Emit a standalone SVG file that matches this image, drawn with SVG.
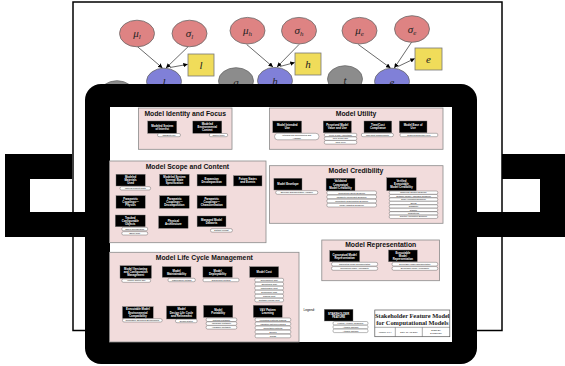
<svg xmlns="http://www.w3.org/2000/svg" width="565" height="366" viewBox="0 0 565 366">
<defs>
<marker id="ah" viewBox="0 0 10 10" refX="10" refY="5" markerWidth="4.5" markerHeight="4.5" orient="auto" markerUnits="userSpaceOnUse"><path d="M0,0 L10,5 L0,10 z" fill="#000"/></marker>
<style>
.red{fill:#de8383;stroke:#6a6a6a;stroke-width:0.8}
.blue{fill:#8080d8;stroke:#6a6a6a;stroke-width:0.8}
.grey{fill:#8c8c8c;stroke:#6a6a6a;stroke-width:0.8}
.yel{fill:#f0dc5a;stroke:#777;stroke-width:0.8}
.gl{font-family:"Liberation Serif","DejaVu Serif",serif;font-style:italic;font-size:11px;fill:#222;text-anchor:middle}
.edge{stroke:#444;stroke-width:0.8;fill:none;marker-end:url(#ah)}
.panel{fill:#f2dcdc;stroke:#8a8a8a;stroke-width:0.8}
.pt{font-family:"Liberation Sans",Arial,sans-serif;font-weight:bold;font-size:6.8px;fill:#111;text-anchor:middle}
.fb{fill:#000;stroke:#777;stroke-width:0.4}
.ft{font-family:"Liberation Sans",Arial,sans-serif;font-weight:bold;font-size:2.8px;fill:#fff;text-anchor:middle}
.tg{fill:#fff;stroke:#333;stroke-width:0.35}
.tt{font-family:"Liberation Sans",Arial,sans-serif;font-size:2.1px;fill:#000;text-anchor:middle}
.tb{font-family:"Liberation Serif","Times New Roman",serif;font-weight:bold;font-size:6.4px;fill:#222;text-anchor:middle}
</style>
</defs>
<rect width="565" height="366" fill="#fff"/>
<rect id="frame" x="73" y="2" width="429" height="328.5" fill="#fff" stroke="#000" stroke-width="1.5"/>

<g id="connectors">
<line class="edge" x1="137.3" y1="46.5" x2="162.5" y2="68"/>
<line class="edge" x1="188.3" y1="46.5" x2="166" y2="68"/>
<line class="edge" x1="170" y1="67.5" x2="187.8" y2="64.3"/>
<line class="edge" x1="246.7" y1="44.5" x2="273" y2="67"/>
<line class="edge" x1="299" y1="44.5" x2="277" y2="67"/>
<line class="edge" x1="280" y1="66.5" x2="294.8" y2="62.5"/>
<line class="edge" x1="358.3" y1="44.5" x2="390.5" y2="68"/>
<line class="edge" x1="411.7" y1="42" x2="394.3" y2="68"/>
<line class="edge" x1="397" y1="67" x2="414.8" y2="58.5"/>
</g>

<g id="n-mul"><ellipse class="red" cx="137" cy="33.5" rx="17.5" ry="13.3"/><text class="gl" x="137" y="37">μ<tspan font-size="7" dy="2">l</tspan></text></g>
<g id="n-sigl"><ellipse class="red" cx="189.5" cy="33.5" rx="17.5" ry="13.3"/><text class="gl" x="189.5" y="37">σ<tspan font-size="7" dy="2">l</tspan></text></g>
<g id="n-muh"><ellipse class="red" cx="247.5" cy="30.7" rx="17.5" ry="13.3"/><text class="gl" x="247.5" y="34.2">μ<tspan font-size="7" dy="2">h</tspan></text></g>
<g id="n-sigh"><ellipse class="red" cx="299" cy="30.7" rx="17.5" ry="13.3"/><text class="gl" x="299" y="34.2">σ<tspan font-size="7" dy="2">h</tspan></text></g>
<g id="n-mue"><ellipse class="red" cx="359.5" cy="30.7" rx="17.5" ry="13.3"/><text class="gl" x="359.5" y="34.2">μ<tspan font-size="7" dy="2">e</tspan></text></g>
<g id="n-sige"><ellipse class="red" cx="412" cy="29" rx="17.5" ry="13.3"/><text class="gl" x="412" y="32.5">σ<tspan font-size="7" dy="2">e</tspan></text></g>
<g id="n-lbox"><rect class="yel" x="188" y="54" width="26" height="22"/><text class="gl" x="201" y="69">l</text></g>
<g id="n-hbox"><rect class="yel" x="295" y="53" width="26" height="22"/><text class="gl" x="308" y="68">h</text></g>
<g id="n-ebox"><rect class="yel" x="415" y="48" width="27" height="22"/><text class="gl" x="428.5" y="63">e</text></g>
<g id="n-x"><ellipse class="grey" cx="117" cy="94" rx="17.5" ry="13.3"/></g>
<g id="n-l"><ellipse class="blue" cx="164" cy="81.5" rx="17.5" ry="13.3"/><text class="gl" x="164" y="86">l</text></g>
<g id="n-g"><ellipse class="grey" cx="236" cy="81" rx="17.5" ry="13.3"/><text class="gl" x="236" y="85.5">g</text></g>
<g id="n-h"><ellipse class="blue" cx="275" cy="80.7" rx="17.5" ry="13.3"/><text class="gl" x="275" y="85">h</text></g>
<g id="n-t"><ellipse class="grey" cx="345" cy="79" rx="17.5" ry="13.3"/><text class="gl" x="345" y="83.5">t</text></g>
<g id="n-e"><ellipse class="blue" cx="392" cy="81.5" rx="17.5" ry="13.3"/><text class="gl" x="392" y="86">e</text></g>

<path id="bracket-left" d="M5,154 H72 V179 H30 V212 H88 V237 H5 Z" fill="#000"/>
<path id="bracket-right" d="M502,154 H565 V237 H474 V212 H540 V179 H502 Z" fill="#000"/>

<rect id="tablet" x="85" y="84" width="392" height="280" rx="16" fill="#000"/>
<rect id="screen" x="110" y="107" width="342" height="235" fill="#fff"/>

<!-- Model Identity and Focus -->
<g id="p-identity">
<rect class="panel" x="138.5" y="108" width="93.5" height="41.3"/>
<text class="pt" x="185.2" y="115.8">Model Identity and Focus</text>
<g id="f-msi"><rect class="fb" x="147.7" y="121" width="29" height="12.3"/><text class="ft"><tspan x="162.2" y="126.6">Modeled System</tspan><tspan x="162.2" y="129.7">of Interest</tspan></text>
<rect class="tg" x="157.5" y="133.5" width="23" height="3.2" rx="1.5"/><text class="tt" x="169" y="135.8">Capability(ies)</text></g>
<g id="f-mec"><rect class="fb" x="192.8" y="121" width="29" height="12.3"/><text class="ft"><tspan x="207.3" y="125">Modeled</tspan><tspan x="207.3" y="128.1">Environmental</tspan><tspan x="207.3" y="131.2">Context</tspan></text>
<rect class="tg" x="209.3" y="133.5" width="18.4" height="3.2" rx="1.5"/><text class="tt" x="218.5" y="135.8">Context Type</text></g>
</g>

<!-- Model Utility -->
<g id="p-utility">
<rect class="panel" x="269.5" y="108" width="173.5" height="41.3"/>
<text class="pt" x="356" y="115.8">Model Utility</text>
<g id="f-miu"><rect class="fb" x="272.8" y="121" width="28.8" height="11.7"/><text class="ft"><tspan x="287.2" y="126.3">Model Intended</tspan><tspan x="287.2" y="129.4">Use</tspan></text>
<rect class="tg" x="274.6" y="133.3" width="44.3" height="6.5" rx="3"/><text class="tt"><tspan x="296.75" y="136">Intended Use Documented and</tspan><tspan x="296.75" y="138.6">Available</tspan></text></g>
<g id="f-pmv"><rect class="fb" x="323.2" y="121" width="28.2" height="11.7"/><text class="ft"><tspan x="337.3" y="126.3">Perceived Model</tspan><tspan x="337.3" y="129.4">Value and Use</tspan></text>
<rect class="tg" x="324.3" y="133.3" width="32.5" height="3.4" rx="1.5"/><text class="tt" x="340.55" y="135.7">Level of Use Acceptance</text>
<rect class="tg" x="324.3" y="136.9" width="32.5" height="3.4" rx="1.5"/><text class="tt" x="340.55" y="139.3">User Group Size</text>
<rect class="tg" x="324.3" y="140.5" width="32.5" height="3.6" rx="1.5"/><text class="tt" x="340.55" y="143">Trust Level</text></g>
<g id="f-tc"><rect class="fb" x="364" y="121" width="27.7" height="11.7"/><text class="ft"><tspan x="377.85" y="126.3">Time/Cost</tspan><tspan x="377.85" y="129.4">Compliance</tspan></text>
<rect class="tg" x="361.4" y="133.3" width="32" height="3.4" rx="1.5"/><text class="tt" x="377.4" y="135.7">Time/Cost Requirements</text></g>
<g id="f-meu"><rect class="fb" x="399.3" y="121" width="27.7" height="11.7"/><text class="ft"><tspan x="413.15" y="126.3">Model Ease of</tspan><tspan x="413.15" y="129.4">Use</tspan></text>
<rect class="tg" x="400" y="133.3" width="37.8" height="3.4" rx="1.5"/><text class="tt" x="418.9" y="135.7">Required Expertise Level</text></g>
</g>

<!-- Model Scope and Content -->
<g id="p-scope">
<rect class="panel" x="109.5" y="161" width="156.5" height="81.7"/>
<text class="pt" x="187.4" y="168.8">Model Scope and Content</text>
<g id="f-mmu"><rect class="fb" x="116" y="174.3" width="29.2" height="11.7"/><text class="ft"><tspan x="130.6" y="178">Modeled</tspan><tspan x="130.6" y="181.1">Materials</tspan><tspan x="130.6" y="184.2">Used</tspan></text>
<rect class="tg" x="120" y="186.7" width="30.6" height="3.3" rx="1.5"/><text class="tt" x="135.3" y="189">Material Property Data</text></g>
<g id="f-msis"><rect class="fb" x="159.6" y="174.3" width="29.6" height="11.7"/><text class="ft"><tspan x="174.4" y="178">Modeled System</tspan><tspan x="174.4" y="181.1">Internal State</tspan><tspan x="174.4" y="184.2">Specification</tspan></text></g>
<g id="f-ed"><rect class="fb" x="197.1" y="174.3" width="29.2" height="11.7"/><text class="ft"><tspan x="211.7" y="179.6">Expansion</tspan><tspan x="211.7" y="182.7">Decomposition</tspan></text></g>
<g id="f-fse"><rect class="fb" x="233.5" y="175.7" width="28.5" height="10.3"/><text class="ft"><tspan x="247.75" y="180.3">Future States</tspan><tspan x="247.75" y="183.4">and Events</tspan></text></g>
<g id="f-pcp"><rect class="fb" x="116" y="195.7" width="29.2" height="12.6"/><text class="ft"><tspan x="130.6" y="199.9">Parametric</tspan><tspan x="130.6" y="203">Couplings—</tspan><tspan x="130.6" y="206.1">Physics</tspan></text></g>
<g id="f-pcd"><rect class="fb" x="159.6" y="195.7" width="29.6" height="12.6"/><text class="ft"><tspan x="174.4" y="199.9">Parametric</tspan><tspan x="174.4" y="203">Couplings—</tspan><tspan x="174.4" y="206.1">Decomposition</tspan></text></g>
<g id="f-pcc"><rect class="fb" x="197.1" y="195.7" width="29.2" height="12.6"/><text class="ft"><tspan x="211.7" y="199.9">Parametric</tspan><tspan x="211.7" y="203">Couplings—</tspan><tspan x="211.7" y="206.1">Characterization</tspan></text></g>
<g id="f-tco"><rect class="fb" x="115.3" y="215" width="29.9" height="11.7"/><text class="ft"><tspan x="130.25" y="218.7">Tracked</tspan><tspan x="130.25" y="221.8">Configurable</tspan><tspan x="130.25" y="224.9">Objects</tspan></text>
<rect class="tg" x="121.8" y="227.3" width="25.9" height="3.4" rx="1.5"/><text class="tt" x="134.75" y="229.7">Object Configuration</text>
<rect class="tg" x="121.8" y="231.7" width="25.9" height="3.3" rx="1.5"/><text class="tt" x="134.75" y="234">Object Type</text></g>
<g id="f-pa"><rect class="fb" x="158.6" y="216" width="29.5" height="12.3"/><text class="ft"><tspan x="173.35" y="221.6">Physical</tspan><tspan x="173.35" y="224.7">Architecture</tspan></text></g>
<g id="f-mmd"><rect class="fb" x="197.1" y="216" width="28.9" height="10.7"/><text class="ft"><tspan x="211.55" y="220.8">Managed Model</tspan><tspan x="211.55" y="223.9">Datasets</tspan></text>
<rect class="tg" x="210.5" y="228.7" width="21.9" height="3.4" rx="1.5"/><text class="tt" x="221.45" y="231.1">Dataset Format</text></g>
</g>

<!-- Model Credibility -->
<g id="p-cred">
<rect class="panel" x="269.5" y="165.7" width="173.5" height="57.6"/>
<text class="pt" x="356" y="172.8">Model Credibility</text>
<g id="f-me"><rect class="fb" x="273.9" y="178.3" width="28.1" height="11.7"/><text class="ft" x="287.95" y="185.2">Model Envelope</text>
<rect class="tg" x="275.7" y="190.7" width="42.1" height="3.6" rx="1.7"/><text class="tt" x="296.75" y="193.2">Envelope Documentation Available</text></g>
<g id="f-vcm"><rect class="fb" x="326.1" y="178.3" width="28.9" height="12.4"/><text class="ft"><tspan x="340.55" y="182.4">Validated</tspan><tspan x="340.55" y="185.5">Conceptual</tspan><tspan x="340.55" y="188.6">Model Credibility</tspan></text>
<rect class="tg" x="326.8" y="191" width="49.8" height="3.7" rx="1.7"/><text class="tt" x="351.7" y="193.6">Conceptual Fidelity Evidence</text>
<rect class="tg" x="326.8" y="195.1" width="49.8" height="3.7" rx="1.7"/><text class="tt" x="351.7" y="197.7">Parameter Uncertainty Evidence</text>
<rect class="tg" x="326.8" y="199.2" width="49.8" height="3.7" rx="1.7"/><text class="tt" x="351.7" y="201.8">Uncertainty Quantification Evidence</text>
<rect class="tg" x="326.8" y="203.3" width="49.8" height="3.7" rx="1.7"/><text class="tt" x="351.7" y="205.9">Model Validation Evidence</text></g>
<g id="f-vem"><rect class="fb" x="386.7" y="177.7" width="29.5" height="13"/><text class="ft"><tspan x="401.45" y="182.1">Verified</tspan><tspan x="401.45" y="185.2">Executable</tspan><tspan x="401.45" y="188.3">Model Credibility</tspan></text>
<rect class="tg" x="389.2" y="191" width="48.6" height="3.3" rx="1.5"/><text class="tt" x="413.5" y="193.3">Numerical Solution Evidence</text>
<rect class="tg" x="389.2" y="194.45" width="48.6" height="3.3" rx="1.5"/><text class="tt" x="413.5" y="196.75">Software Quality Assurance Evidence</text>
<rect class="tg" x="389.2" y="197.9" width="48.6" height="3.3" rx="1.5"/><text class="tt" x="413.5" y="200.2">Code Verification Evidence</text>
<rect class="tg" x="389.2" y="201.35" width="48.6" height="3.3" rx="1.5"/><text class="tt" x="413.5" y="203.65">Speed</text>
<rect class="tg" x="389.2" y="204.8" width="48.6" height="3.3" rx="1.5"/><text class="tt" x="413.5" y="207.1">Scalability</text>
<rect class="tg" x="389.2" y="208.25" width="48.6" height="3.3" rx="1.5"/><text class="tt" x="413.5" y="210.55">Stability</text>
<rect class="tg" x="389.2" y="211.7" width="48.6" height="3.3" rx="1.5"/><text class="tt" x="413.5" y="214">Robustness</text>
<rect class="tg" x="389.2" y="215.15" width="48.6" height="3.3" rx="1.5"/><text class="tt" x="413.5" y="217.45">Solution Verification Evidence</text></g>
</g>

<!-- Model Representation -->
<g id="p-repr">
<rect class="panel" x="321.8" y="240" width="117.8" height="40.7"/>
<text class="pt" x="380.7" y="247.2">Model Representation</text>
<g id="f-cmr"><rect class="fb" x="329.7" y="250.7" width="29.9" height="11"/><text class="ft"><tspan x="344.65" y="255.6">Conceptual Model</tspan><tspan x="344.65" y="258.7">Representation</tspan></text>
<rect class="tg" x="331.5" y="262.3" width="46.2" height="3.7" rx="1.7"/><text class="tt" x="354.6" y="264.9">Conceptual Model Documentation</text>
<rect class="tg" x="331.5" y="266.6" width="46.2" height="3.7" rx="1.7"/><text class="tt" x="354.6" y="269.2">Conceptual Model Accessibility</text></g>
<g id="f-emr"><rect class="fb" x="388.5" y="250" width="28.8" height="11.7"/><text class="ft"><tspan x="402.9" y="253.7">Executable</tspan><tspan x="402.9" y="256.8">Model</tspan><tspan x="402.9" y="259.9">Representation</tspan></text>
<rect class="tg" x="392" y="262.3" width="45.8" height="3.7" rx="1.7"/><text class="tt" x="414.9" y="264.9">Executable Model Documentation</text>
<rect class="tg" x="392" y="266.6" width="45.8" height="3.7" rx="1.7"/><text class="tt" x="414.9" y="269.2">Executable Model Accessibility</text></g>
</g>

<!-- Model Life Cycle Management -->
<g id="p-life">
<rect class="panel" x="109.5" y="252.3" width="189.5" height="89.7"/>
<text class="pt" x="204.3" y="259.8">Model Life Cycle Management</text>
<g id="f-mvc"><rect class="fb" x="120" y="265.7" width="31.4" height="12.6"/><text class="ft"><tspan x="135.7" y="269.9">Model Versioning</tspan><tspan x="135.7" y="273">and Configuration</tspan><tspan x="135.7" y="276.1">Management</tspan></text>
<rect class="tg" x="121.8" y="279" width="28.8" height="3.3" rx="1.5"/><text class="tt" x="136.2" y="281.3">Version Control Tool</text></g>
<g id="f-mm"><rect class="fb" x="162.2" y="266.7" width="28.8" height="10.6"/><text class="ft"><tspan x="176.6" y="271.5">Model</tspan><tspan x="176.6" y="274.6">Maintainability</tspan></text>
<rect class="tg" x="168" y="278.3" width="27.3" height="3.4" rx="1.5"/><text class="tt" x="181.65" y="280.7">Maintenance Method</text></g>
<g id="f-md"><rect class="fb" x="202.9" y="266.7" width="29.5" height="10.6"/><text class="ft"><tspan x="217.65" y="271.5">Model</tspan><tspan x="217.65" y="274.6">Deployability</tspan></text>
<rect class="tg" x="203" y="278.3" width="36" height="3.4" rx="1.5"/><text class="tt" x="221" y="280.7">Deployment Method</text></g>
<g id="f-mc"><rect class="fb" x="249.7" y="266.7" width="28.9" height="10.6"/><text class="ft" x="264.15" y="273">Model Cost</text>
<rect class="tg" x="254.8" y="278.3" width="28.8" height="3.6" rx="1.5"/><text class="tt" x="269.2" y="280.8">Development Cost</text>
<rect class="tg" x="254.8" y="282.3" width="28.8" height="3.6" rx="1.5"/><text class="tt" x="269.2" y="284.8">Operational Cost</text>
<rect class="tg" x="254.8" y="286.3" width="28.8" height="3.6" rx="1.5"/><text class="tt" x="269.2" y="288.8">Maintenance Cost</text>
<rect class="tg" x="254.8" y="290.3" width="28.8" height="3.6" rx="1.5"/><text class="tt" x="269.2" y="292.8">Deployment Cost</text>
<rect class="tg" x="254.8" y="294.3" width="28.8" height="3.6" rx="1.5"/><text class="tt" x="269.2" y="296.8">Training Cost</text>
<rect class="tg" x="254.8" y="298.3" width="28.8" height="3.6" rx="1.5"/><text class="tt" x="269.2" y="300.8">Software License Cost</text></g>
<g id="f-emec"><rect class="fb" x="122.5" y="306.7" width="30.7" height="11.6"/><text class="ft"><tspan x="137.85" y="310.4">Executable Model</tspan><tspan x="137.85" y="313.5">Environmental</tspan><tspan x="137.85" y="316.6">Compatibility</tspan></text>
<rect class="tg" x="122.5" y="318.7" width="39.7" height="3.3" rx="1.5"/><text class="tt" x="142.35" y="321">Compatible Operating Environments</text></g>
<g id="f-mdl"><rect class="fb" x="166.5" y="306" width="29.9" height="13"/><text class="ft"><tspan x="181.45" y="310.4">Model</tspan><tspan x="181.45" y="313.5">Design Life Cycle</tspan><tspan x="181.45" y="316.6">and Refinement</tspan></text>
<rect class="tg" x="175.5" y="319.3" width="21.6" height="3.4" rx="1.5"/><text class="tt" x="186.3" y="321.7">Design Status</text></g>
<g id="f-mp"><rect class="fb" x="203.6" y="305.3" width="29.2" height="12"/><text class="ft"><tspan x="218.2" y="310.7">Model</tspan><tspan x="218.2" y="313.8">Portability</tspan></text>
<rect class="tg" x="206.1" y="318" width="30.7" height="3.5" rx="1.5"/><text class="tt" x="221.45" y="320.5">Platform Portability</text>
<rect class="tg" x="206.1" y="321.8" width="30.7" height="3.5" rx="1.5"/><text class="tt" x="221.45" y="324.3">Language Portability</text>
<rect class="tg" x="206.1" y="325.6" width="30.7" height="3.5" rx="1.5"/><text class="tt" x="221.45" y="328.1">Hardware Portability</text></g>
<g id="f-vv"><rect class="fb" x="253.3" y="305.3" width="28.9" height="12"/><text class="ft"><tspan x="267.75" y="310.7">V&amp;V Pattern</tspan><tspan x="267.75" y="313.8">Learning</tspan></text>
<rect class="tg" x="255.1" y="318" width="35.7" height="3.6" rx="1.5"/><text class="tt" x="272.95" y="320.5">Verification Patterns Learned</text>
<rect class="tg" x="255.1" y="322.05" width="35.7" height="3.6" rx="1.5"/><text class="tt" x="272.95" y="324.55">Validation Patterns Learned</text>
<rect class="tg" x="255.1" y="326.1" width="35.7" height="3.6" rx="1.5"/><text class="tt" x="272.95" y="328.6">Uncertainty Patterns</text>
<rect class="tg" x="255.1" y="330.15" width="35.7" height="3.6" rx="1.5"/><text class="tt" x="272.95" y="332.65">Defects</text>
<rect class="tg" x="255.1" y="334.2" width="35.7" height="3.6" rx="1.5"/><text class="tt" x="272.95" y="336.7">Trends</text></g>
</g>

<!-- Legend -->
<g id="legend">
<text x="303.5" y="311" font-family="Liberation Sans, Arial, sans-serif" font-size="3.2" fill="#000">Legend:</text>
<g id="f-legend"><rect class="fb" x="324.3" y="309.3" width="28.7" height="11.7"/><text class="ft"><tspan x="338.65" y="314.6">STAKEHOLDER</tspan><tspan x="338.65" y="317.7">FEATURE</tspan></text>
<rect class="tg" x="333" y="321.5" width="35" height="3.5" rx="1.5"/><text class="tt" x="350.5" y="324">Feature Attribute (Required)</text>
<rect class="tg" x="333" y="325.3" width="35" height="3.5" rx="1.5"/><text class="tt" x="350.5" y="327.8">Attribute Options</text>
<rect class="tg" x="333" y="329.1" width="35" height="3.5" rx="1.5"/><text class="tt" x="350.5" y="331.6">Attribute Options</text></g>
</g>

<!-- Title block -->
<g id="title-block">
<rect x="374.8" y="310" width="75" height="26.7" fill="#fff" stroke="#555" stroke-width="0.7"/>
<line x1="374.8" y1="327.3" x2="449.8" y2="327.3" stroke="#555" stroke-width="0.5"/>
<line x1="395.3" y1="327.3" x2="395.3" y2="336.7" stroke="#555" stroke-width="0.5"/>
<line x1="422.3" y1="327.3" x2="422.3" y2="336.7" stroke="#555" stroke-width="0.5"/>
<text class="tb" x="412.3" y="317.8">Stakeholder Feature Model</text>
<text class="tb" x="412.3" y="324.8">for Computational Models</text>
<text class="tt" x="385" y="332.8">Version: 1.0.4</text>
<text class="tt" x="408.8" y="332.8">Date: 31 Aug 2017</text>
<text class="tt"><tspan x="436" y="331.4">Drawn By:</tspan><tspan x="436" y="334.2">E Schneider</tspan></text>
</g>
</svg>
